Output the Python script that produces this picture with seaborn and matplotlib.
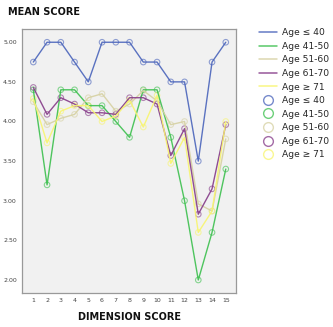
import numpy as np
import pandas as pd
import matplotlib
matplotlib.use("Agg")
import matplotlib.pyplot as plt
import seaborn as sns
from matplotlib.lines import Line2D

dimensions = list(range(1, 16))
groups = ["Age ≤ 40", "Age 41-50", "Age 51-60", "Age 61-70", "Age ≥ 71"]
age_le40 = [4.75, 5.00, 5.00, 4.75, 4.50, 5.00, 5.00, 5.00, 4.75, 4.75, 4.50, 4.50, 3.50, 4.75, 5.00]
age_41_50 = [4.40, 3.20, 4.40, 4.40, 4.20, 4.20, 4.00, 3.80, 4.40, 4.40, 3.80, 3.00, 2.00, 2.60, 3.40]
age_51_60 = [4.25, 3.96, 4.04, 4.09, 4.30, 4.35, 4.13, 4.22, 4.39, 4.26, 3.96, 4.00, 2.96, 2.87, 3.78]
age_61_70 = [4.43, 4.09, 4.30, 4.22, 4.11, 4.11, 4.09, 4.30, 4.30, 4.22, 3.57, 3.91, 2.83, 3.15, 3.96]
age_ge71 = [4.29, 3.73, 4.13, 4.20, 4.20, 4.00, 4.07, 4.27, 3.93, 4.33, 3.47, 3.80, 2.60, 2.87, 4.00]
colors = ["#4a64bb", "#3cc04e", "#d6d1a2", "#853a88", "#f8f56e"]
yticks = [2.0, 2.5, 3.0, 3.5, 4.0, 4.5, 5.0]

series = [age_le40, age_41_50, age_51_60, age_61_70, age_ge71]
df = pd.DataFrame({
    "dim": dimensions * len(groups),
    "score": np.concatenate(series),
    "group": np.repeat(groups, len(dimensions)),
})

sns.set_style("white")
fig = plt.figure(figsize=(3.33, 3.27), dpi=100)
ax = fig.add_axes([0.067, 0.105, 0.642, 0.807])
ax.set_facecolor("#f1f1f1")

palette = dict(zip(groups, colors))
sns.lineplot(data=df, x="dim", y="score", hue="group", palette=palette,
             linewidth=1.0, alpha=0.9, ax=ax, legend=False)
for g, c in zip(groups, colors):
    sub = df[df["group"] == g]
    sns.scatterplot(data=sub, x="dim", y="score", ax=ax, s=16, marker="o",
                    facecolor="none", edgecolor=c, linewidth=0.8, alpha=0.6)

ax.set_xlim(0.2, 15.75)
ax.set_ylim(1.84, 5.17)
ax.set_xticks(dimensions)
ax.set_xticklabels([str(d) for d in dimensions])
ax.set_yticks(yticks)
ax.set_yticklabels(["%.2f" % v for v in yticks])
ax.tick_params(axis="both", labelsize=4.5, length=2.5, width=0.6, pad=1.5,
               colors="#444444")
ax.set_xlabel("")
ax.set_ylabel("")
for sp in ax.spines.values():
    sp.set_color("#999999")
    sp.set_linewidth(0.9)

handles = [Line2D([], [], color=c, lw=1.1, alpha=0.85) for c in colors]
handles += [Line2D([], [], color=c, lw=0, marker="o", markersize=7,
                   markerfacecolor="none", markeredgewidth=1.0, alpha=0.75)
            for c in colors]
labels = groups + groups
fig.legend(handles, labels, loc="upper left", bbox_to_anchor=(0.768, 0.925),
           frameon=False, fontsize=6.6, handlelength=1.9, labelspacing=0.5,
           handletextpad=0.6, borderaxespad=0)

fig.text(0.024, 0.955, "MEAN SCORE", fontsize=7, fontweight="bold",
         color="#111111")
fig.text(0.39, 0.02, "DIMENSION SCORE", fontsize=7, fontweight="bold",
         color="#111111", ha="center")

fig.savefig("out.png", dpi=100)
